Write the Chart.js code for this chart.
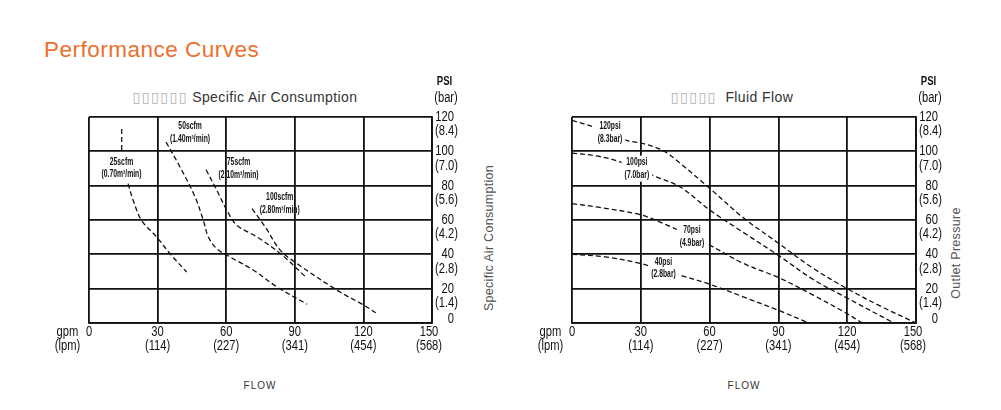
<!DOCTYPE html>
<html>
<head>
<meta charset="utf-8">
<script src="https://cdn.jsdelivr.net/npm/chart.js@4.4.1/dist/chart.umd.min.js"></script>
<style>
body{margin:0;background:#fff;width:1001px;height:410px;overflow:hidden;position:relative;font-family:"Liberation Sans",Arial,sans-serif}
.abs{position:absolute;white-space:nowrap}
.mid{transform:translate(-50%,-50%)}
#title{left:44px;top:37px;font-size:22.5px;color:#ec6f2d;letter-spacing:0.5px}
.sub{font-size:14px;color:#333;top:97px;letter-spacing:0.4px}
.sub .box{color:#b0b0b0;font-family:"DejaVu Sans";font-size:14px;letter-spacing:1.5px}
.side{font-size:12.5px;color:#555;transform:translate(-50%,-50%) rotate(-90deg);letter-spacing:0.3px}
.flow{font-size:10px;color:#333;letter-spacing:1px;top:385px}
#wrapAir{left:40px;top:70px}
#wrapFluid{left:520px;top:70px}
</style>
</head>
<body>
<div id="title" class="abs">Performance Curves</div>
<div class="abs sub mid" style="left:245px"><span class="box">▯▯▯▯▯▯</span> Specific Air Consumption</div>
<div class="abs sub mid" style="left:732px"><span class="box">▯▯▯▯▯</span>&nbsp; Fluid Flow</div>
<div class="abs side" style="left:489px;top:238px">Specific Air Consumption</div>
<div class="abs side" style="left:956px;top:253px">Outlet Pressure</div>
<div class="abs flow mid" style="left:260px">FLOW</div>
<div class="abs flow mid" style="left:744px">FLOW</div>
<div id="wrapAir" class="abs"><canvas id="chartAir" width="450" height="300"></canvas></div>
<div id="wrapFluid" class="abs"><canvas id="chartFluid" width="460" height="300"></canvas></div>
<script>
// axis ticks
const gpmTicks = [0, 30, 60, 90, 120, 150];
const lpmTicks = ['', '(114)', '(227)', '(341)', '(454)', '(568)'];
const psiTicks = [0, 20, 40, 60, 80, 100, 120];
const barTicks = ['', '(1.4)', '(2.8)', '(4.2)', '(5.6)', '(7.0)', '(8.4)'];

// Specific Air Consumption curves (flow gpm / outlet psi)
const air25LeadFlow = [14.3, 14.3];
const air25LeadPsi = [113, 99.5];
const air25Flow = [17.1, 19.3, 23, 29.6, 35.4, 42.7];
const air25Psi = [81.2, 71.5, 59.8, 50.1, 40.4, 29.7];
const air50Flow = [33.7, 39.8, 46.4, 50.0, 52.2, 55.9, 61.8, 72.0, 82.2, 95.4];
const air50Psi = [105.4, 90.9, 73.4, 59.8, 50.1, 43.3, 38.4, 30.7, 21.0, 10.9];
const air75Flow = [51.2, 55.9, 60.3, 64.7, 73.5, 83.7, 95.1];
const air75Psi = [89.3, 77.3, 65.6, 56.9, 50.1, 40.4, 26.4];
const air100Flow = [71.3, 77.1, 83.7, 91.0, 108.6, 120.3, 125.4];
const air100Psi = [66.6, 55.9, 42.3, 34.6, 19.0, 10.3, 6.0];

// Fluid Flow curves at air inlet pressure
const p120Flow = [0, 10.8, 23.9, 31.2, 39.9, 47.2, 60, 75, 90, 105, 120, 135, 150];
const p120Psi = [118, 113.6, 106.4, 104.5, 100.3, 93, 78.5, 61, 46.5, 32, 20, 9.5, 0];
const p100Flow = [0, 10.8, 21, 37, 47.2, 60.3, 75, 90, 105, 120, 140.4];
const p100Psi = [99, 97.3, 93.8, 85, 79.2, 65.6, 52.5, 39.4, 25.5, 14.5, 0];
const p70Flow = [0, 10.8, 29.7, 39.9, 58.8, 74.9, 90, 105.4, 120, 126.6];
const p70Psi = [69.5, 67.6, 63.1, 57.9, 46.2, 34.6, 26.5, 16.1, 5.4, 0];
const p40Flow = [0, 15.1, 30, 47.2, 60.3, 74.9, 90, 103.3];
const p40Psi = [40, 38.4, 34.6, 27.8, 22.5, 15.1, 7.4, 0];

const ink = '#111';
const narrowFamily = '"Liberation Sans", Arial, sans-serif';

function pts(xs, ys) {
  return xs.map((x, i) => ({x: x, y: ys[i]}));
}
function curve(xs, ys) {
  return {
    data: pts(xs, ys),
    borderColor: ink,
    borderWidth: 1.3,
    borderDash: [5, 3],
    pointRadius: 0,
    tension: 0.35,
    fill: false
  };
}

// squeezed text, like the drawing's plotter lettering
function squeeze(ctx, text, x, y, sx) {
  ctx.save();
  ctx.translate(x, y);
  ctx.scale(sx, 1);
  ctx.fillText(text, 0, 0);
  ctx.restore();
}

// tick labels, curve notes and axis units
const curveText = {
  id: 'curveText',
  afterDatasetsDraw(chart, args, opts) {
    const ctx = chart.ctx;
    const x = chart.scales.x, y = chart.scales.y, area = chart.chartArea;
    ctx.save();
    ctx.textBaseline = 'middle';

    ctx.textAlign = 'center';
    ctx.font = 'bold 10px ' + narrowFamily;
    opts.items.forEach(it => {
      const px = x.getPixelForValue(it.at[0]);
      const py = y.getPixelForValue(it.at[1]);
      if (it.mask) {
        const w = Math.max(...it.lines.map(l => ctx.measureText(l).width)) * 0.68 + 6;
        ctx.fillStyle = '#fff';
        ctx.fillRect(px - w / 2, py - 7, w, it.lines.length * 12.5 + 1);
      }
      ctx.fillStyle = ink;
      it.lines.forEach((l, i) => squeeze(ctx, l, px, py + i * 12.5, 0.68));
    });

    ctx.fillStyle = ink;
    ctx.font = '14px ' + narrowFamily;
    gpmTicks.forEach((v, i) => {
      const px = x.getPixelForValue(v) - (i === gpmTicks.length - 1 ? 3 : 0);
      squeeze(ctx, String(v), px, area.bottom + 9, 0.8);
      if (lpmTicks[i]) squeeze(ctx, lpmTicks[i], px, area.bottom + 23, 0.8);
    });
    psiTicks.forEach((v, i) => {
      const py = y.getPixelForValue(v);
      ctx.textAlign = 'right';
      squeeze(ctx, String(v), area.right + 22, barTicks[i] ? py : py - 4, 0.8);
      if (barTicks[i]) {
        ctx.textAlign = 'center';
        squeeze(ctx, barTicks[i], area.right + 14.5, py + 14.5, 0.8);
      }
    });
    ctx.textAlign = 'center';
    squeeze(ctx, 'gpm', area.left - 21.5, area.bottom + 9, 0.8);
    squeeze(ctx, '(lpm)', area.left - 21.5, area.bottom + 23, 0.8);
    ctx.font = 'bold 12px ' + narrowFamily;
    squeeze(ctx, 'PSI', area.right + 12.5, area.top - 35, 0.8);
    ctx.font = '14px ' + narrowFamily;
    squeeze(ctx, '(bar)', area.right + 14, area.top - 19, 0.8);
    ctx.restore();
  }
};

function makeOptions(pad, items) {
  return {
    responsive: false,
    animation: false,
    layout: {padding: pad},
    plugins: {
      legend: {display: false},
      tooltip: {enabled: false},
      curveText: {items: items}
    },
    scales: {
      x: {
        type: 'linear', min: 0, max: 150,
        afterFit: s => { s.height = 40; },
        afterBuildTicks: s => { s.ticks = gpmTicks.map(v => ({value: v})); },
        grid: {color: ink, lineWidth: 1.8, drawTicks: false},
        border: {color: ink, width: 1.8},
        ticks: {display: false}
      },
      y: {
        type: 'linear', position: 'right', min: 0, max: 120,
        afterFit: s => { s.width = 50; },
        afterBuildTicks: s => { s.ticks = psiTicks.map(v => ({value: v})); },
        grid: {color: ink, lineWidth: 1.8, drawTicks: false},
        border: {color: ink, width: 1.8},
        ticks: {display: false}
      }
    }
  };
}

new Chart(document.getElementById('chartAir'), {
  type: 'line',
  data: {
    datasets: [
      Object.assign(curve(air25LeadFlow, air25LeadPsi), {tension: 0}),
      curve(air25Flow, air25Psi),
      curve(air50Flow, air50Psi),
      curve(air75Flow, air75Psi),
      curve(air100Flow, air100Psi)
    ]
  },
  plugins: [curveText],
  options: makeOptions({left: 49, top: 47, right: 8, bottom: 7}, [
    {at: [14.2, 93.8], lines: ['25scfm', '(0.70m³/min)']},
    {at: [44.2, 114.6], lines: ['50scfm', '(1.40m³/min)']},
    {at: [65.4, 93.4], lines: ['75scfm', '(2.10m³/min)']},
    {at: [83.4, 73], lines: ['100scfm', '(2.80m³/min)']}
  ])
});

new Chart(document.getElementById('chartFluid'), {
  type: 'line',
  data: {
    datasets: [
      curve(p120Flow, p120Psi),
      curve(p100Flow, p100Psi),
      curve(p70Flow, p70Psi),
      curve(p40Flow, p40Psi)
    ]
  },
  plugins: [curveText],
  options: makeOptions({left: 52, top: 47, right: 14, bottom: 7}, [
    {at: [16.6, 114.6], lines: ['120psi', '(8.3bar)'], mask: true},
    {at: [28.3, 93.4], lines: ['100psi', '(7.0bar)'], mask: true},
    {at: [52.3, 54.0], lines: ['70psi', '(4.9bar)'], mask: true},
    {at: [39.9, 35.5], lines: ['40psi', '(2.8bar)'], mask: true}
  ])
});
</script>
</body>
</html>
